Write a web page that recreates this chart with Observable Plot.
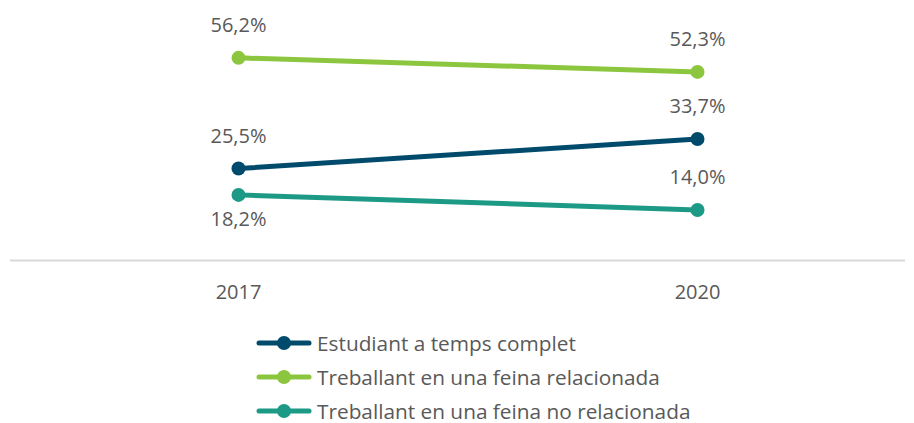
<!DOCTYPE html>
<html>
<head>
<meta charset="utf-8">
<script src="https://cdn.jsdelivr.net/npm/d3@7"></script>
<script src="https://cdn.jsdelivr.net/npm/@observablehq/plot@0.6"></script>
<style>
  body { margin: 0; background: #fff; font-family: "Open Sans", sans-serif; overflow: hidden; }
  #legend { padding-left: 256px; margin-top: 6px; }
  .row { display: flex; align-items: center; height: 34px; color: #595959; font-size: 20.8px; line-height: 1; }
  .row svg { margin-right: 5px; }
</style>
</head>
<body>
<div id="chart"></div>
<div id="legend"></div>
<script>
const years = [2017, 2020];
const seriesNames = [
  "Estudiant a temps complet",
  "Treballant en una feina relacionada",
  "Treballant en una feina no relacionada"
];
const colors = ["#004b6b", "#8cc63e", "#1d9a86"];
const estudiant = [25.5, 33.7];
const relacionada = [56.2, 52.3];
const noRelacionada = [18.2, 14.0];
// label placement: -1 above, +1 below
const labelSide = [[-1, -1], [-1, -1], [1, -1]];

const seriesValues = [estudiant, relacionada, noRelacionada];
const data = [];
seriesValues.forEach((vals, i) => vals.forEach((v, j) => data.push({
  series: seriesNames[i], year: years[j], value: v, side: labelSide[i][j]
})));

const fmt = v => v.toFixed(1).replace(".", ",") + "%";

const plot = Plot.plot({
  width: 914,
  height: 320,
  marginLeft: 10,
  marginRight: 9,
  marginTop: 0,
  marginBottom: 60,
  style: { fontFamily: "Open Sans, sans-serif", color: "#595959", background: "#fff" },
  x: { domain: [2017, 2020], range: [238, 697], label: null },
  y: { domain: [0, 70], range: [260, 7.6], axis: null },
  color: { domain: seriesNames, range: colors },
  marks: [
    Plot.ruleY([0], { stroke: "#d9d9d9", strokeWidth: 2 }),
    Plot.axisX({ ticks: years, tickFormat: d => String(d), tickSize: 0, tickPadding: 24, fontSize: 20, fill: "#595959", label: null }),
    Plot.line(data, { x: "year", y: "value", z: "series", stroke: "series", strokeWidth: 5 }),
    Plot.dot(data, { x: "year", y: "value", fill: "series", r: 7 }),
    Plot.text(data.filter(d => d.side < 0), { x: "year", y: "value", text: d => fmt(d.value), dy: -32, fontSize: 20, fill: "#595959" }),
    Plot.text(data.filter(d => d.side > 0), { x: "year", y: "value", text: d => fmt(d.value), dy: 25, fontSize: 20, fill: "#595959" })
  ]
});
document.getElementById("chart").appendChild(plot);

const legend = document.getElementById("legend");
seriesNames.forEach((name, i) => {
  const row = document.createElement("div");
  row.className = "row";
  row.innerHTML = `<svg width="56" height="16"><line x1="3" x2="53" y1="8" y2="8" stroke="${colors[i]}" stroke-width="5" stroke-linecap="round"/><circle cx="28" cy="8" r="7" fill="${colors[i]}"/></svg><span>${name}</span>`;
  legend.appendChild(row);
});
</script>
</body>
</html>
